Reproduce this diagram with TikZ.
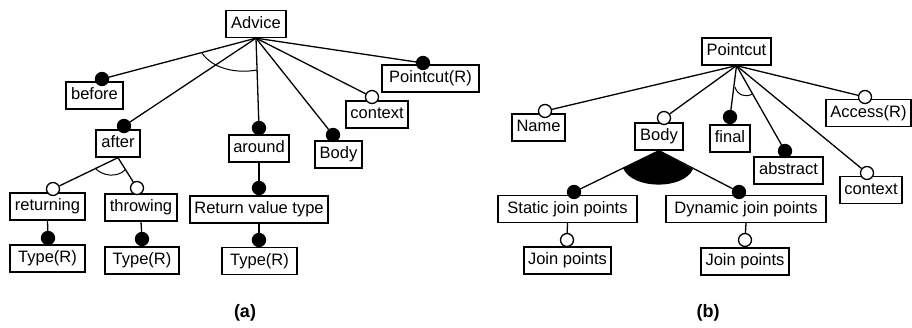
\documentclass[tikz,border=0pt]{standalone}
\usepackage{fontspec}
\setmainfont{Liberation Sans}
\begin{document}
\begin{tikzpicture}[x=1pt,y=-1pt,line width=1.3pt,font=\fontsize{16.5}{19}\selectfont]
    \tikzstyle{feature}=[rectangle,draw=black,fill=white,minimum height=27pt,inner sep=0pt,text height=12pt,text depth=3.5pt]
    \tikzstyle{joint}=[circle,draw=black,minimum size=13pt,inner sep=0pt]
    \useasboundingbox (0,0) rectangle (912,327);

    % feature boxes
    \foreach \name/\x/\y/\w/\txt in {a-advice/256/24/60/Advice, a-before/94.5/95.5/57/before,
            a-after/118/143.5/44/after, a-around/259/148.5/60/around, a-body/338.5/154.5/47/Body,
            a-context/377/114.5/62/context, a-pointcut/430.5/78.5/97/Pointcut(R),
            a-returning/47.5/206.5/75/returning, a-throwing/141/207.5/72/throwing,
            a-type1/47.5/258.5/75/Type(R), a-type2/142/260.5/74/Type(R),
            a-rvt/259/209.5/138/Return value type, a-type3/259.5/261/75/Type(R),
            b-pointcut/736.5/51.5/69/Pointcut, b-name/538.5/127.5/53/Name, b-body/659/136.5/48/Body,
            b-final/730/138.5/40/final, b-abstract/788.5/170.5/69/abstract, b-access/868.5/113/85/Access(R),
            b-context/871/190/62/context, b-static/567.5/209/139/Static join points,
            b-dynamic/746/209/160/Dynamic join points, b-jp1/567.5/260.5/87/Join points,
            b-jp2/745/261.5/88/Join points}
        \node[feature,minimum width=\w pt] (\name) at (\x,\y) {\txt};

    % mandatory (black) and optional (white) ends
    \foreach \name/\x/\y/\col in {a-before/102/79/black, a-after/124/126/black, a-around/259/128/black,
            a-body/333/135/black, a-context/372/97/white, a-pointcut/423/63/black,
            a-returning/53/189/white, a-throwing/137/188/white, a-type1/48/238/black,
            a-type2/142/239/black, a-rvt/259/188/black, a-type3/259/240/black,
            b-name/545/111/white, b-body/664/118/white, b-final/730/117/black, b-abstract/785/151/black,
            b-access/865/97/white, b-context/867/173/white, b-static/574/192/black,
            b-dynamic/739/192/black, b-jp1/567/240/white, b-jp2/745/240/white}
        \node[joint,fill=\col] (k-\name) at (\x,\y) {};

    % or-group under Body
    \fill (b-body.south) -- (623,168) .. controls (632,190) and (684,190) .. (693,169) -- cycle;

    \foreach \from/\to in {a-advice/a-before, a-advice/a-after, a-advice/a-around, a-advice/a-body,
            a-advice/a-context, a-advice/a-pointcut, a-after/a-returning, a-after/a-throwing,
            a-returning/a-type1, a-throwing/a-type2, a-around/a-rvt, a-rvt/a-type3,
            b-pointcut/b-name, b-pointcut/b-body, b-pointcut/b-final, b-pointcut/b-abstract,
            b-pointcut/b-access, b-pointcut/b-context, b-body/b-static, b-body/b-dynamic,
            b-static/b-jp1, b-dynamic/b-jp2}
        \draw (\from.south) -- (k-\to);

    % alternative arcs
    \draw[line width=1pt] (202,53) .. controls (212,68) and (235,74) .. (257,70);
    \draw[line width=1pt] (95,168) .. controls (102,176) and (117,178) .. (125,170);
    \draw[line width=1pt] (735,87) .. controls (737,95) and (746,98) .. (752,94);

    \node[font=\fontsize{18}{21}\selectfont\bfseries] (lbl-a) at (245,313) {(a)};
    \node[font=\fontsize{18}{21}\selectfont\bfseries] (lbl-b) at (708,313) {(b)};
\end{tikzpicture}
\end{document}
